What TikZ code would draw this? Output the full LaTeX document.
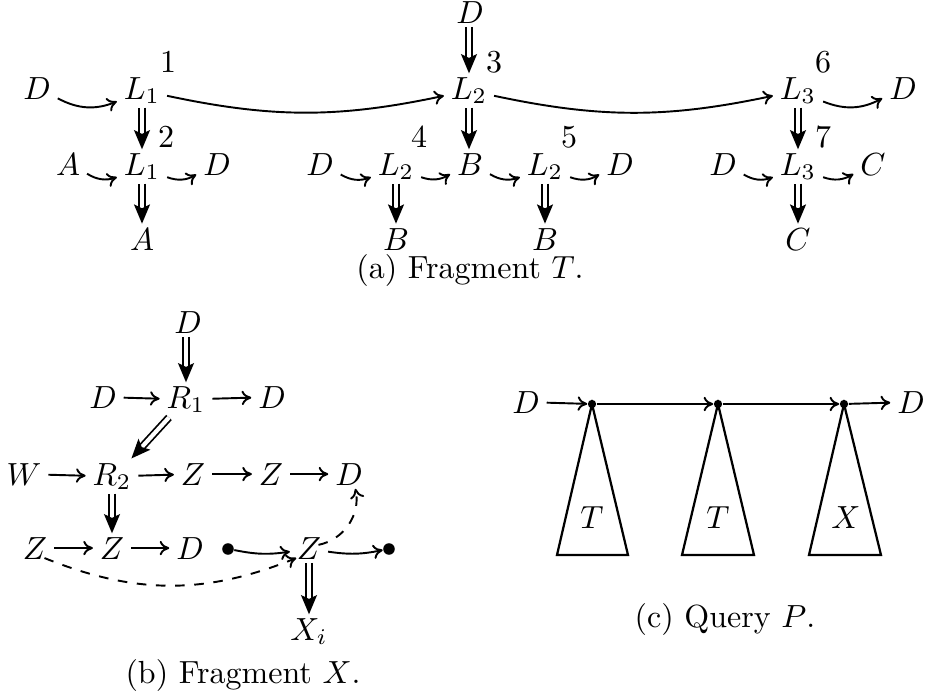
\documentclass[tikz,border=0pt]{standalone}
\usetikzlibrary{arrows.meta}
\begin{document}
\begin{tikzpicture}[x=0.3125pt,y=-0.3125pt,
  t/.style={anchor=base, inner sep=2pt},
  tl/.style={anchor=base, inner sep=0pt},
  captext/.style={anchor=base, inner sep=0pt},
  arr/.style={-{To[length=3pt,width=4.5pt]}, line width=0.6pt},
  darr/.style={double, double distance=1.3pt, line width=0.55pt, shorten <=-1pt, shorten >=-1pt, -{Stealth[length=6pt,width=5pt,inset=1.2pt]}},
  darrl/.style={darr, shorten >=1.2pt},
  dot/.style={circle, fill, inner sep=0pt, minimum size=#1},
  tri/.style={line width=0.7pt, line join=miter}]
\useasboundingbox (0,0) rectangle (929,697);
% ---------- (a) ----------
\node[t] (aD0) at (37,99) {$D$};
\node[t] (aL1) at (142,99) {$L_1$};
\node[t] (n1) at (168,72) {1};
\node[t] (aDt) at (470,23) {$D$};
\node[t] (aL2) at (469,99) {$L_2$};
\node[t] (n3) at (494,72) {3};
\node[t] (aL3) at (798,99) {$L_3$};
\node[t] (n6) at (823,72) {6};
\node[t] (aD6) at (903,99) {$D$};
% row 2
\node[t] (bA) at (68,175) {$A$};
\node[t] (bL1) at (142,175) {$L_1$};
\node[t] (n2) at (166,147) {2};
\node[t] (bD1) at (217,175) {$D$};
\node[t] (bD2) at (320,175) {$D$};
\node[t] (bL2) at (396,175) {$L_2$};
\node[t] (n4) at (419,147) {4};
\node[t] (bB) at (470,175) {$B$};
\node[t] (bL2b) at (545,175) {$L_2$};
\node[t] (n5) at (569,147) {5};
\node[t] (bD3) at (620,175) {$D$};
\node[t] (bD4) at (723,175) {$D$};
\node[t] (bL3) at (798,175) {$L_3$};
\node[t] (n7) at (823,147) {7};
\node[t] (bC) at (873,175) {$C$};
% row 3
\node[tl] (cA) at (142,250) {$A$};
\node[tl] (cB1) at (396,250) {$B$};
\node[tl] (cB2) at (545,250) {$B$};
\node[tl] (cC) at (798,250) {$C$};
\node[captext] (capa) at (470,278) {(a) Fragment $T$.};
% arrows
\draw[arr] (aD0) to[bend right=25] (aL1);
\draw[arr] (aL1) to[bend right=12] (aL2);
\draw[arr] (aL2) to[bend right=12] (aL3);
\draw[arr] (aL3) to[bend right=25] (aD6);
\draw[arr] (bA) to[bend right=25] (bL1);
\draw[arr] (bL1) to[bend right=25] (bD1);
\draw[arr] (bD2) to[bend right=25] (bL2);
\draw[arr] (bL2) to[bend right=25] (bB);
\draw[arr] (bB) to[bend right=25] (bL2b);
\draw[arr] (bL2b) to[bend right=25] (bD3);
\draw[arr] (bD4) to[bend right=25] (bL3);
\draw[arr] (bL3) to[bend right=25] (bC);
\draw[darr] (aDt.south -| aL2.north) -- (aL2.north);
\draw[darr] (aL1.south) -- (aL1.south |- bL1.north);
\draw[darr] (aL2.south) -- (aL2.south |- bB.north);
\draw[darr] (aL3.south) -- (aL3.south |- bL3.north);
\draw[darrl] (bL1.south) -- (bL1.south |- cA.north);
\draw[darrl] (bL2.south) -- (bL2.south |- cB1.north);
\draw[darrl] (bL2b.south) -- (bL2b.south |- cB2.north);
\draw[darrl] (bL3.south) -- (bL3.south |- cC.north);
% ---------- (b) ----------
\node[t] (xDt) at (188,333) {$D$};
\node[t] (xD1) at (103,408) {$D$};
\node[t] (xR1) at (186,408) {$R_1$};
\node[t] (xD2) at (272,408) {$D$};
\node[t] (xW) at (24,485) {$W$};
\node[t] (xR2) at (112,485) {$R_2$};
\node[t] (xZ1) at (193,485) {$Z$};
\node[t] (xZ2) at (271,485) {$Z$};
\node[t] (xD3) at (349,485) {$D$};
\node[t] (xZ3) at (35,559) {$Z$};
\node[t] (xZ4) at (112,559) {$Z$};
\node[t] (xD4) at (190,559) {$D$};
\node[dot=3.6pt] (xb1) at (228,549) {};
\node[t] (xZ5) at (309,559) {$Z$};
\node[dot=3.6pt] (xb2) at (389,549) {};
\node[t] (xX) at (309,640) {$X_i$};
\node[captext] (capb) at (243,683) {(b) Fragment $X$.};
\draw[darr] (xDt.south -| xR1.north) -- (xR1.north);
\draw[arr] (xD1) -- (xR1);
\draw[arr] (xR1) -- (xD2);
\draw[darr] ([xshift=-6pt]xR1.south) -- ([xshift=-1.5pt]xR2.north east);
\draw[arr] (xW) -- (xR2);
\draw[arr] (xR2) -- (xZ1);
\draw[arr] (xZ1) -- (xZ2);
\draw[arr] (xZ2) -- (xD3);
\draw[darr] (xR2.south -| xZ4.north) -- (xZ4.north);
\draw[arr] (xZ3) -- (xZ4);
\draw[arr] (xZ4) -- (xD4);
\draw[arr] (xb1) to[bend right=10] (xZ5);
\draw[arr] (xZ5) to[bend right=10] (xb2);
\draw[darr] (xZ5.south) -- (xZ5.south |- xX.north);
\draw[arr, dashed] ([xshift=-3pt,yshift=2.5pt]xZ3.south east) to[bend right=22] ([xshift=2pt,yshift=2.5pt]xZ5.south west);
\draw[arr, dashed] ([xshift=-3pt,yshift=1pt]xZ5.east) to[bend right=45] ([xshift=2pt,yshift=1pt]xD3.south);
% ---------- (c) ----------
\node[t] (pD1) at (526,413) {$D$};
\node[dot=2.6pt] (p1) at (592,404) {};
\node[dot=2.6pt] (p2) at (718,404) {};
\node[dot=2.6pt] (p3) at (844,404) {};
\node[t] (pD2) at (911,413) {$D$};
\draw[arr] (pD1) -- (p1);
\draw[arr] (p1) -- (p2);
\draw[arr] (p2) -- (p3);
\draw[arr] (p3) -- (pD2);
\draw[tri] (p1.center) -- (628,555) -- (557,555) -- cycle;
\draw[tri] (p2.center) -- (754,555) -- (682,555) -- cycle;
\draw[tri] (p3.center) -- (881,555) -- (809,555) -- cycle;
\node[t] (tT1) at (592,528) {$T$};
\node[t] (tT2) at (718,528) {$T$};
\node[t] (tX) at (846,528) {$X$};
\node[captext] (capc) at (725,627) {(c) Query $P$.};
\end{tikzpicture}
\end{document}
